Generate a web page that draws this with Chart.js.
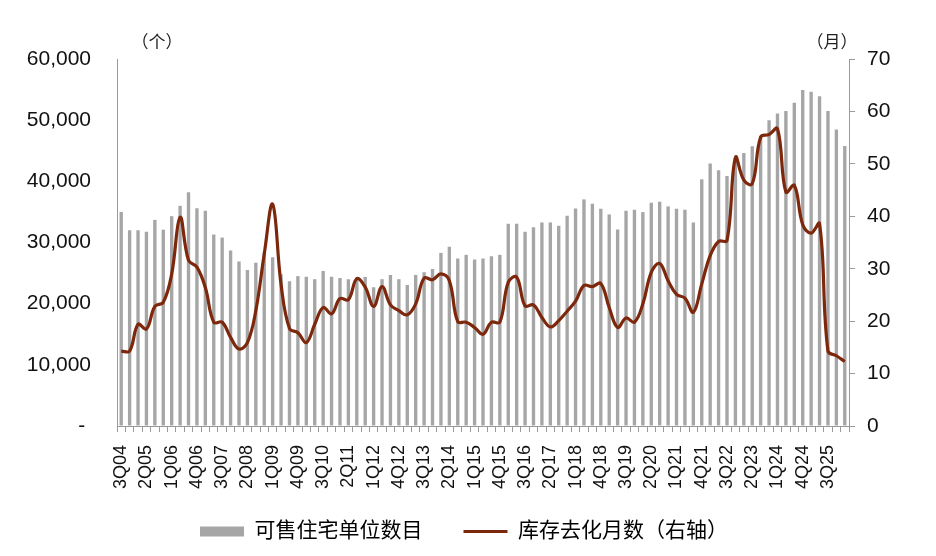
<!DOCTYPE html>
<html>
<head>
<meta charset="utf-8">
<script src="https://cdn.jsdelivr.net/npm/chart.js@4.4.1/dist/chart.umd.min.js"></script>
<style>
  body { margin: 0; background: #fff; }
  #wrap { width: 936px; height: 556px; }
</style>
</head>
<body>
<div id="wrap"><canvas id="chart" width="936" height="556"></canvas></div>
<script>
// quarters 3Q04 .. 1Q26
var quarters = [
  "3Q04","4Q04",
  "1Q05","2Q05","3Q05","4Q05",
  "1Q06","2Q06","3Q06","4Q06",
  "1Q07","2Q07","3Q07","4Q07",
  "1Q08","2Q08","3Q08","4Q08",
  "1Q09","2Q09","3Q09","4Q09",
  "1Q10","2Q10","3Q10","4Q10",
  "1Q11","2Q11","3Q11","4Q11",
  "1Q12","2Q12","3Q12","4Q12",
  "1Q13","2Q13","3Q13","4Q13",
  "1Q14","2Q14","3Q14","4Q14",
  "1Q15","2Q15","3Q15","4Q15",
  "1Q16","2Q16","3Q16","4Q16",
  "1Q17","2Q17","3Q17","4Q17",
  "1Q18","2Q18","3Q18","4Q18",
  "1Q19","2Q19","3Q19","4Q19",
  "1Q20","2Q20","3Q20","4Q20",
  "1Q21","2Q21","3Q21","4Q21",
  "1Q22","2Q22","3Q22","4Q22",
  "1Q23","2Q23","3Q23","4Q23",
  "1Q24","2Q24","3Q24","4Q24",
  "1Q25","2Q25","3Q25","4Q25",
  "1Q26"
];

// 可售住宅单位数目 (个)
var unitsForSale = [
  35000, 32000,
  32000, 31750, 33700, 32100,
  34300, 36000, 38200, 35600,
  35200, 31300, 30800, 28700,
  26900, 25500, 26700, 28400,
  27600, 24800, 23650, 24500,
  24400, 24000, 25350, 24400,
  24200, 24000, 24300, 24370,
  22680, 24000, 24700, 24000,
  23060, 24700, 25140, 25680,
  28300, 29290, 27380, 27980,
  27210, 27380, 27760, 27980,
  33060, 33060, 31750, 32510,
  33280, 33280, 32730, 34370,
  35570, 37050, 36340, 35520,
  34590, 32130, 35190, 35360,
  34970, 36500, 36670, 35900,
  35520, 35360, 33280, 40330,
  42900, 41800, 40870, 43830,
  44640, 45740, 47430, 50000,
  51090, 51480, 52840, 54920,
  54640, 53930, 51480, 48470,
  45790
];

// 库存去化月数 (月, 右轴)
var monthsToClear = [
  14.3, 14.3,
  19.4, 18.5, 22.8, 23.6,
  29.0, 39.8, 31.6, 30.3,
  26.4, 19.8, 19.8, 16.9,
  14.7, 15.9, 22.0, 32.8,
  42.3, 27.0, 18.6, 17.8,
  15.9, 19.4, 22.6, 21.4,
  24.3, 24.1, 28.1, 26.5,
  22.8, 26.6, 23.1, 22.0,
  21.2, 23.3, 28.2, 27.9,
  29.0, 27.7, 19.9, 19.8,
  18.8, 17.5, 19.8, 19.8,
  27.4, 28.4, 22.9, 23.1,
  20.7, 18.9, 20.1, 21.9,
  23.8, 26.8, 26.6, 27.2,
  22.6, 18.8, 20.6, 19.8,
  23.3, 29.3, 31.0, 27.7,
  25.1, 24.4, 21.7, 27.1,
  32.5, 35.2, 35.4, 51.2,
  46.9, 46.2, 55.1, 55.6,
  56.7, 44.6, 45.9, 38.4,
  36.8, 38.6, 14.3, 13.4,
  12.3
];

var leftTicks = [0, 10000, 20000, 30000, 40000, 50000, 60000];
var rightTicks = [0, 10, 20, 30, 40, 50, 60, 70];
var labelEvery = 3;

var FONT = '"Liberation Sans", Arial, "Noto Sans CJK SC", sans-serif';
var BAR_COLOR = "#a6a6a6";
var LINE_COLOR = "#7d280c";
var AXIS_COLOR = "#9a9a9a";

// unit captions above the two y axes
var unitCaptions = {
  id: "unitCaptions",
  afterDraw: function (chart) {
    var ctx = chart.ctx;
    var area = chart.chartArea;
    ctx.save();
    ctx.font = "17px " + FONT;
    ctx.fillStyle = "#222";
    ctx.textAlign = "center";
    ctx.textBaseline = "middle";
    ctx.fillText("（个）", area.left + 40, area.top - 16);
    ctx.fillText("（月）", area.right - 17, area.top - 16);
    ctx.restore();
  }
};

new Chart(document.getElementById("chart"), {
  data: {
    labels: quarters,
    datasets: [
      {
        type: "bar",
        label: "可售住宅单位数目",
        data: unitsForSale,
        backgroundColor: BAR_COLOR,
        yAxisID: "y",
        barPercentage: 0.4,
        categoryPercentage: 1,
        order: 2
      },
      {
        type: "line",
        label: "库存去化月数（右轴）",
        data: monthsToClear,
        borderColor: LINE_COLOR,
        backgroundColor: LINE_COLOR,
        borderWidth: 3.2,
        pointRadius: 0,
        tension: 0.4,
        yAxisID: "y1",
        order: 1
      }
    ]
  },
  options: {
    responsive: false,
    animation: false,
    layout: { padding: { top: 59, left: 0, right: 8, bottom: 4 } },
    plugins: {
      tooltip: { enabled: false },
      legend: {
        position: "bottom",
        labels: {
          usePointStyle: true,
          pointStyleWidth: 44,
          boxHeight: 10,
          padding: 20,
          color: "#111",
          font: { size: 21, family: FONT },
          generateLabels: function (chart) {
            return chart.data.datasets.map(function (ds, i) {
              var isLine = ds.type === "line";
              return {
                // ideographic space keeps the gap before the second item
                text: isLine ? ds.label : ds.label + "\u3000",
                datasetIndex: i,
                fillStyle: isLine ? ds.borderColor : ds.backgroundColor,
                strokeStyle: isLine ? ds.borderColor : ds.backgroundColor,
                lineWidth: isLine ? 3 : 0,
                pointStyle: isLine ? "line" : "rect",
                hidden: false
              };
            });
          }
        }
      }
    },
    scales: {
      x: {
        offset: true,
        grid: { offset: true, drawOnChartArea: false, drawTicks: true, tickLength: 6, color: AXIS_COLOR },
        border: { color: AXIS_COLOR },
        ticks: {
          autoSkip: false,
          minRotation: 90,
          maxRotation: 90,
          padding: 13,
          color: "#111",
          font: { size: 18, family: FONT },
          callback: function (v, i) { return i % labelEvery === 0 ? quarters[i] : ""; }
        },
        afterFit: function (s) { s.height = 75; }
      },
      y: {
        position: "left",
        min: leftTicks[0],
        max: leftTicks[leftTicks.length - 1],
        afterBuildTicks: function (s) { s.ticks = leftTicks.map(function (v) { return { value: v }; }); },
        grid: { drawOnChartArea: false, drawTicks: false },
        border: { color: AXIS_COLOR },
        ticks: {
          padding: 26,
          color: "#111",
          font: { size: 21, family: FONT },
          callback: function (v) { return v === 0 ? "- " : v.toLocaleString("en-US"); }
        },
        afterFit: function (s) { s.width = 117; }
      },
      y1: {
        position: "right",
        min: rightTicks[0],
        max: rightTicks[rightTicks.length - 1],
        afterBuildTicks: function (s) { s.ticks = rightTicks.map(function (v) { return { value: v }; }); },
        grid: { drawOnChartArea: false, drawTicks: true, tickLength: 6, color: AXIS_COLOR },
        border: { color: AXIS_COLOR },
        ticks: {
          padding: 12,
          color: "#111",
          font: { size: 21, family: FONT }
        },
        afterFit: function (s) { s.width = 79; }
      }
    }
  },
  plugins: [unitCaptions]
});
</script>
</body>
</html>
